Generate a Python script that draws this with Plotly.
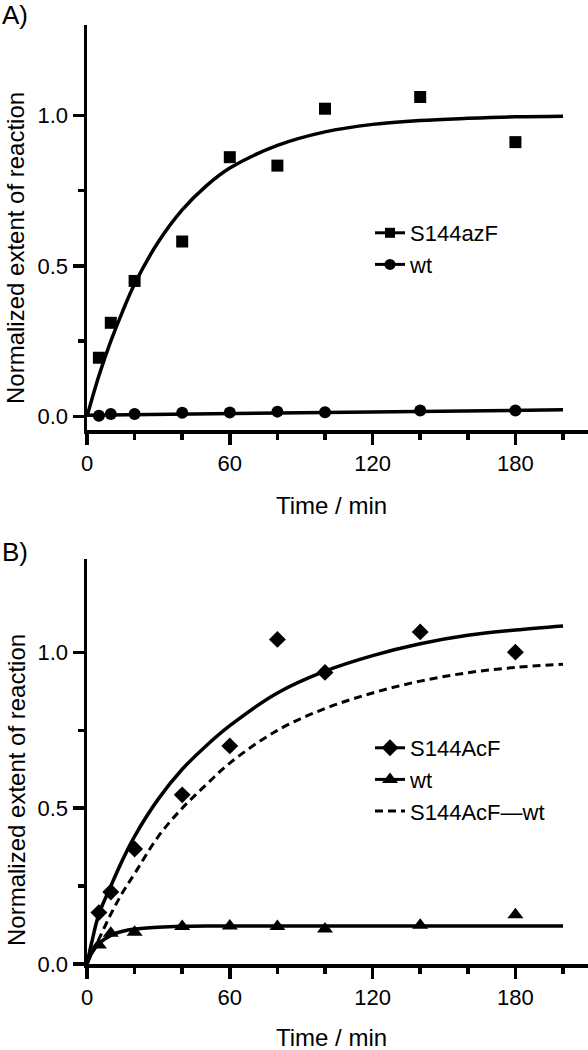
import plotly.graph_objects as go

W, H = 588, 1050

# ---------------- data ----------------
time_points = [5, 10, 20, 40, 60, 80, 100, 140, 180]

# Panel A
a_s144azf = [0.195, 0.311, 0.45, 0.581, 0.861, 0.833, 1.022, 1.061, 0.911]
a_wt = [0.002, 0.008, 0.008, 0.012, 0.013, 0.016, 0.014, 0.020, 0.020]
a_fit_time = [0, 5, 10, 15, 20, 30, 40, 50, 60, 80, 100, 120, 140, 160, 180, 200]
a_fit_s144azf = [0, 0.135, 0.25, 0.35, 0.44, 0.58, 0.686, 0.765, 0.825, 0.90,
                 0.945, 0.97, 0.983, 0.99, 0.995, 0.997]
a_fit_wt_time = [0, 100, 200]
a_fit_wt = [0.004, 0.013, 0.022]

# Panel B
b_s144acf = [0.165, 0.231, 0.369, 0.543, 0.70, 1.042, 0.936, 1.066, 1.001]
b_wt = [0.061, 0.099, 0.102, 0.12, 0.122, 0.12, 0.112, 0.124, 0.158]
b_fit_time = [0, 2, 5, 10, 15, 20, 30, 40, 50, 60, 80, 100, 120, 140, 160, 180, 200]
b_fit_s144acf = [0, 0.07, 0.16, 0.25, 0.335, 0.41, 0.53, 0.625, 0.70, 0.765, 0.87,
                 0.94, 0.99, 1.028, 1.055, 1.072, 1.085]
b_fit_wt = [0, 0.035, 0.065, 0.092, 0.105, 0.112, 0.118, 0.121, 0.122, 0.122,
            0.122, 0.122, 0.122, 0.122, 0.122, 0.122, 0.122]
b_fit_diff = [0, 0.035, 0.08, 0.16, 0.23, 0.29, 0.41, 0.50, 0.575, 0.645, 0.75,
              0.82, 0.87, 0.908, 0.935, 0.952, 0.962]

x_major_ticks = [0, 60, 120, 180]
x_minor_ticks = [20, 40, 80, 100, 140, 160, 200]
y_major_ticks = [0.0, 0.5, 1.0]
y_minor_ticks = [0.25, 0.75]

x_title = "Time / min"
y_title = "Normalized extent of reaction"

# ---------------- helpers ----------------
FONT = "Liberation Sans, Arial, Helvetica, sans-serif"


def px(x):
    return x / W


def py(y):
    return 1 - y / H


BLACK = "black"
fig = go.Figure()

# ----- Panel A -----
fig.add_trace(go.Scatter(x=a_fit_time, y=a_fit_s144azf, mode="lines",
                         line=dict(color=BLACK, width=3.5, shape="spline"),
                         showlegend=False, xaxis="x", yaxis="y"))
fig.add_trace(go.Scatter(x=a_fit_wt_time, y=a_fit_wt, mode="lines",
                         line=dict(color=BLACK, width=3.5, shape="spline"),
                         showlegend=False, xaxis="x", yaxis="y"))
fig.add_trace(go.Scatter(x=time_points, y=a_s144azf, mode="markers",
                         marker=dict(symbol="square", size=12, color=BLACK),
                         cliponaxis=False, showlegend=False, xaxis="x", yaxis="y"))
fig.add_trace(go.Scatter(x=time_points, y=a_wt, mode="markers",
                         marker=dict(symbol="circle", size=12, color=BLACK),
                         cliponaxis=False, showlegend=False, xaxis="x", yaxis="y"))
# legend entries A
fig.add_trace(go.Scatter(x=[None], y=[None], mode="lines+markers", name="S144azF",
                         marker=dict(symbol="square", size=10, color=BLACK),
                         line=dict(color=BLACK, width=3), legend="legend",
                         legendgroup="a1", xaxis="x", yaxis="y"))
fig.add_trace(go.Scatter(x=[None], y=[None], mode="lines+markers", name="wt",
                         marker=dict(symbol="circle", size=11, color=BLACK),
                         line=dict(color=BLACK, width=3), legend="legend",
                         legendgroup="a2", xaxis="x", yaxis="y"))

# ----- Panel B -----
fig.add_trace(go.Scatter(x=b_fit_time, y=b_fit_s144acf, mode="lines",
                         line=dict(color=BLACK, width=3.5, shape="spline"),
                         showlegend=False, xaxis="x2", yaxis="y2"))
fig.add_trace(go.Scatter(x=b_fit_time, y=b_fit_wt, mode="lines",
                         line=dict(color=BLACK, width=3.5, shape="spline"),
                         showlegend=False, xaxis="x2", yaxis="y2"))
fig.add_trace(go.Scatter(x=b_fit_time, y=b_fit_diff, mode="lines",
                         line=dict(color=BLACK, width=3, shape="spline", dash="8px,5px"),
                         showlegend=False, xaxis="x2", yaxis="y2"))
fig.add_trace(go.Scatter(x=time_points, y=b_s144acf, mode="markers",
                         marker=dict(symbol="diamond", size=13, color=BLACK),
                         cliponaxis=False, showlegend=False, xaxis="x2", yaxis="y2"))
fig.add_trace(go.Scatter(x=time_points, y=b_wt, mode="markers",
                         marker=dict(symbol="triangle-up", size=14, color=BLACK),
                         cliponaxis=False, showlegend=False, xaxis="x2", yaxis="y2"))
# legend entries B
fig.add_trace(go.Scatter(x=[None], y=[None], mode="lines+markers", name="S144AcF",
                         marker=dict(symbol="diamond", size=13, color=BLACK),
                         line=dict(color=BLACK, width=3), legend="legend2",
                         legendgroup="b1", xaxis="x2", yaxis="y2"))
fig.add_trace(go.Scatter(x=[None], y=[None], mode="lines+markers", name="wt",
                         marker=dict(symbol="triangle-up", size=14, color=BLACK),
                         line=dict(color=BLACK, width=3), legend="legend2",
                         legendgroup="b2", xaxis="x2", yaxis="y2"))
fig.add_trace(go.Scatter(x=[None], y=[None], mode="lines", name="S144AcF\u2014wt",
                         line=dict(color=BLACK, width=3, dash="8px,5px"),
                         legend="legend2", legendgroup="b3", xaxis="x2", yaxis="y2"))

# ---------------- axes ----------------
AXW = 3.5


def xaxis_cfg(anchor):
    return dict(
        domain=[px(87), 1.0], range=[0, 210.5], anchor=anchor, automargin=False,
        showline=True, linecolor=BLACK, linewidth=AXW, showgrid=False, zeroline=False,
        tickmode="array", tickvals=x_major_ticks, ticktext=[str(v) for v in x_major_ticks],
        ticks="outside", ticklen=11, tickwidth=AXW, tickcolor=BLACK,
        tickfont=dict(family=FONT, size=22, color=BLACK),
        minor=dict(tickmode="array", tickvals=x_minor_ticks, ticks="outside",
                   ticklen=6, tickwidth=AXW, tickcolor=BLACK, showgrid=False),
        fixedrange=True,
    )


def yaxis_cfg(anchor, dom, rng):
    return dict(
        domain=dom, range=rng, anchor=anchor, automargin=False,
        showline=True, linecolor=BLACK, linewidth=AXW, showgrid=False, zeroline=False,
        tickmode="array", tickvals=y_major_ticks, ticktext=[f"{v:.1f}" for v in y_major_ticks],
        ticks="outside", ticklen=11, tickwidth=AXW, tickcolor=BLACK,
        tickfont=dict(family=FONT, size=22, color=BLACK),
        minor=dict(tickmode="array", tickvals=y_minor_ticks, ticks="outside",
                   ticklen=6, tickwidth=AXW, tickcolor=BLACK, showgrid=False),
        fixedrange=True,
    )


legend_common = dict(xanchor="left", yanchor="top", bgcolor="rgba(0,0,0,0)",
                     font=dict(family=FONT, size=22, color=BLACK),
                     tracegroupgap=0, borderwidth=0)

fig.update_layout(
    width=W, height=H,
    margin=dict(l=0, r=0, t=0, b=0, autoexpand=False),
    paper_bgcolor="white", plot_bgcolor="white",
    font=dict(family=FONT, color=BLACK),
    xaxis=xaxis_cfg("y"),
    yaxis=yaxis_cfg("x", [py(430), py(25)], [-0.045, 1.3]),
    xaxis2=xaxis_cfg("y2"),
    yaxis2=yaxis_cfg("x2", [py(964), py(559)], [0, 1.3]),
    legend=dict(x=px(370), y=py(212), **legend_common),
    legend2=dict(x=px(370), y=py(727), **legend_common),
    showlegend=True,
)

annotations = [
    dict(text="A)", x=px(0), y=py(15), xanchor="left", yanchor="middle",
         font=dict(family=FONT, size=26, color=BLACK)),
    dict(text="B)", x=px(0), y=py(552), xanchor="left", yanchor="middle",
         font=dict(family=FONT, size=26, color=BLACK)),
    dict(text=y_title, x=px(16), y=py(248), textangle=-90, xanchor="center", yanchor="middle",
         font=dict(family=FONT, size=24, color=BLACK)),
    dict(text=y_title, x=px(16), y=py(790), textangle=-90, xanchor="center", yanchor="middle",
         font=dict(family=FONT, size=24, color=BLACK)),
    dict(text=x_title, x=px(331), y=py(505), xanchor="center", yanchor="middle",
         font=dict(family=FONT, size=24, color=BLACK)),
    dict(text=x_title, x=px(331), y=py(1037), xanchor="center", yanchor="middle",
         font=dict(family=FONT, size=24, color=BLACK)),
]
for a in annotations:
    a.update(xref="paper", yref="paper", showarrow=False)
fig.update_layout(annotations=annotations)

fig.write_html("out.html",
               config={"displayModeBar": False, "staticPlot": True},
               post_script="document.body.style.margin='0';document.body.style.overflow='hidden';")
